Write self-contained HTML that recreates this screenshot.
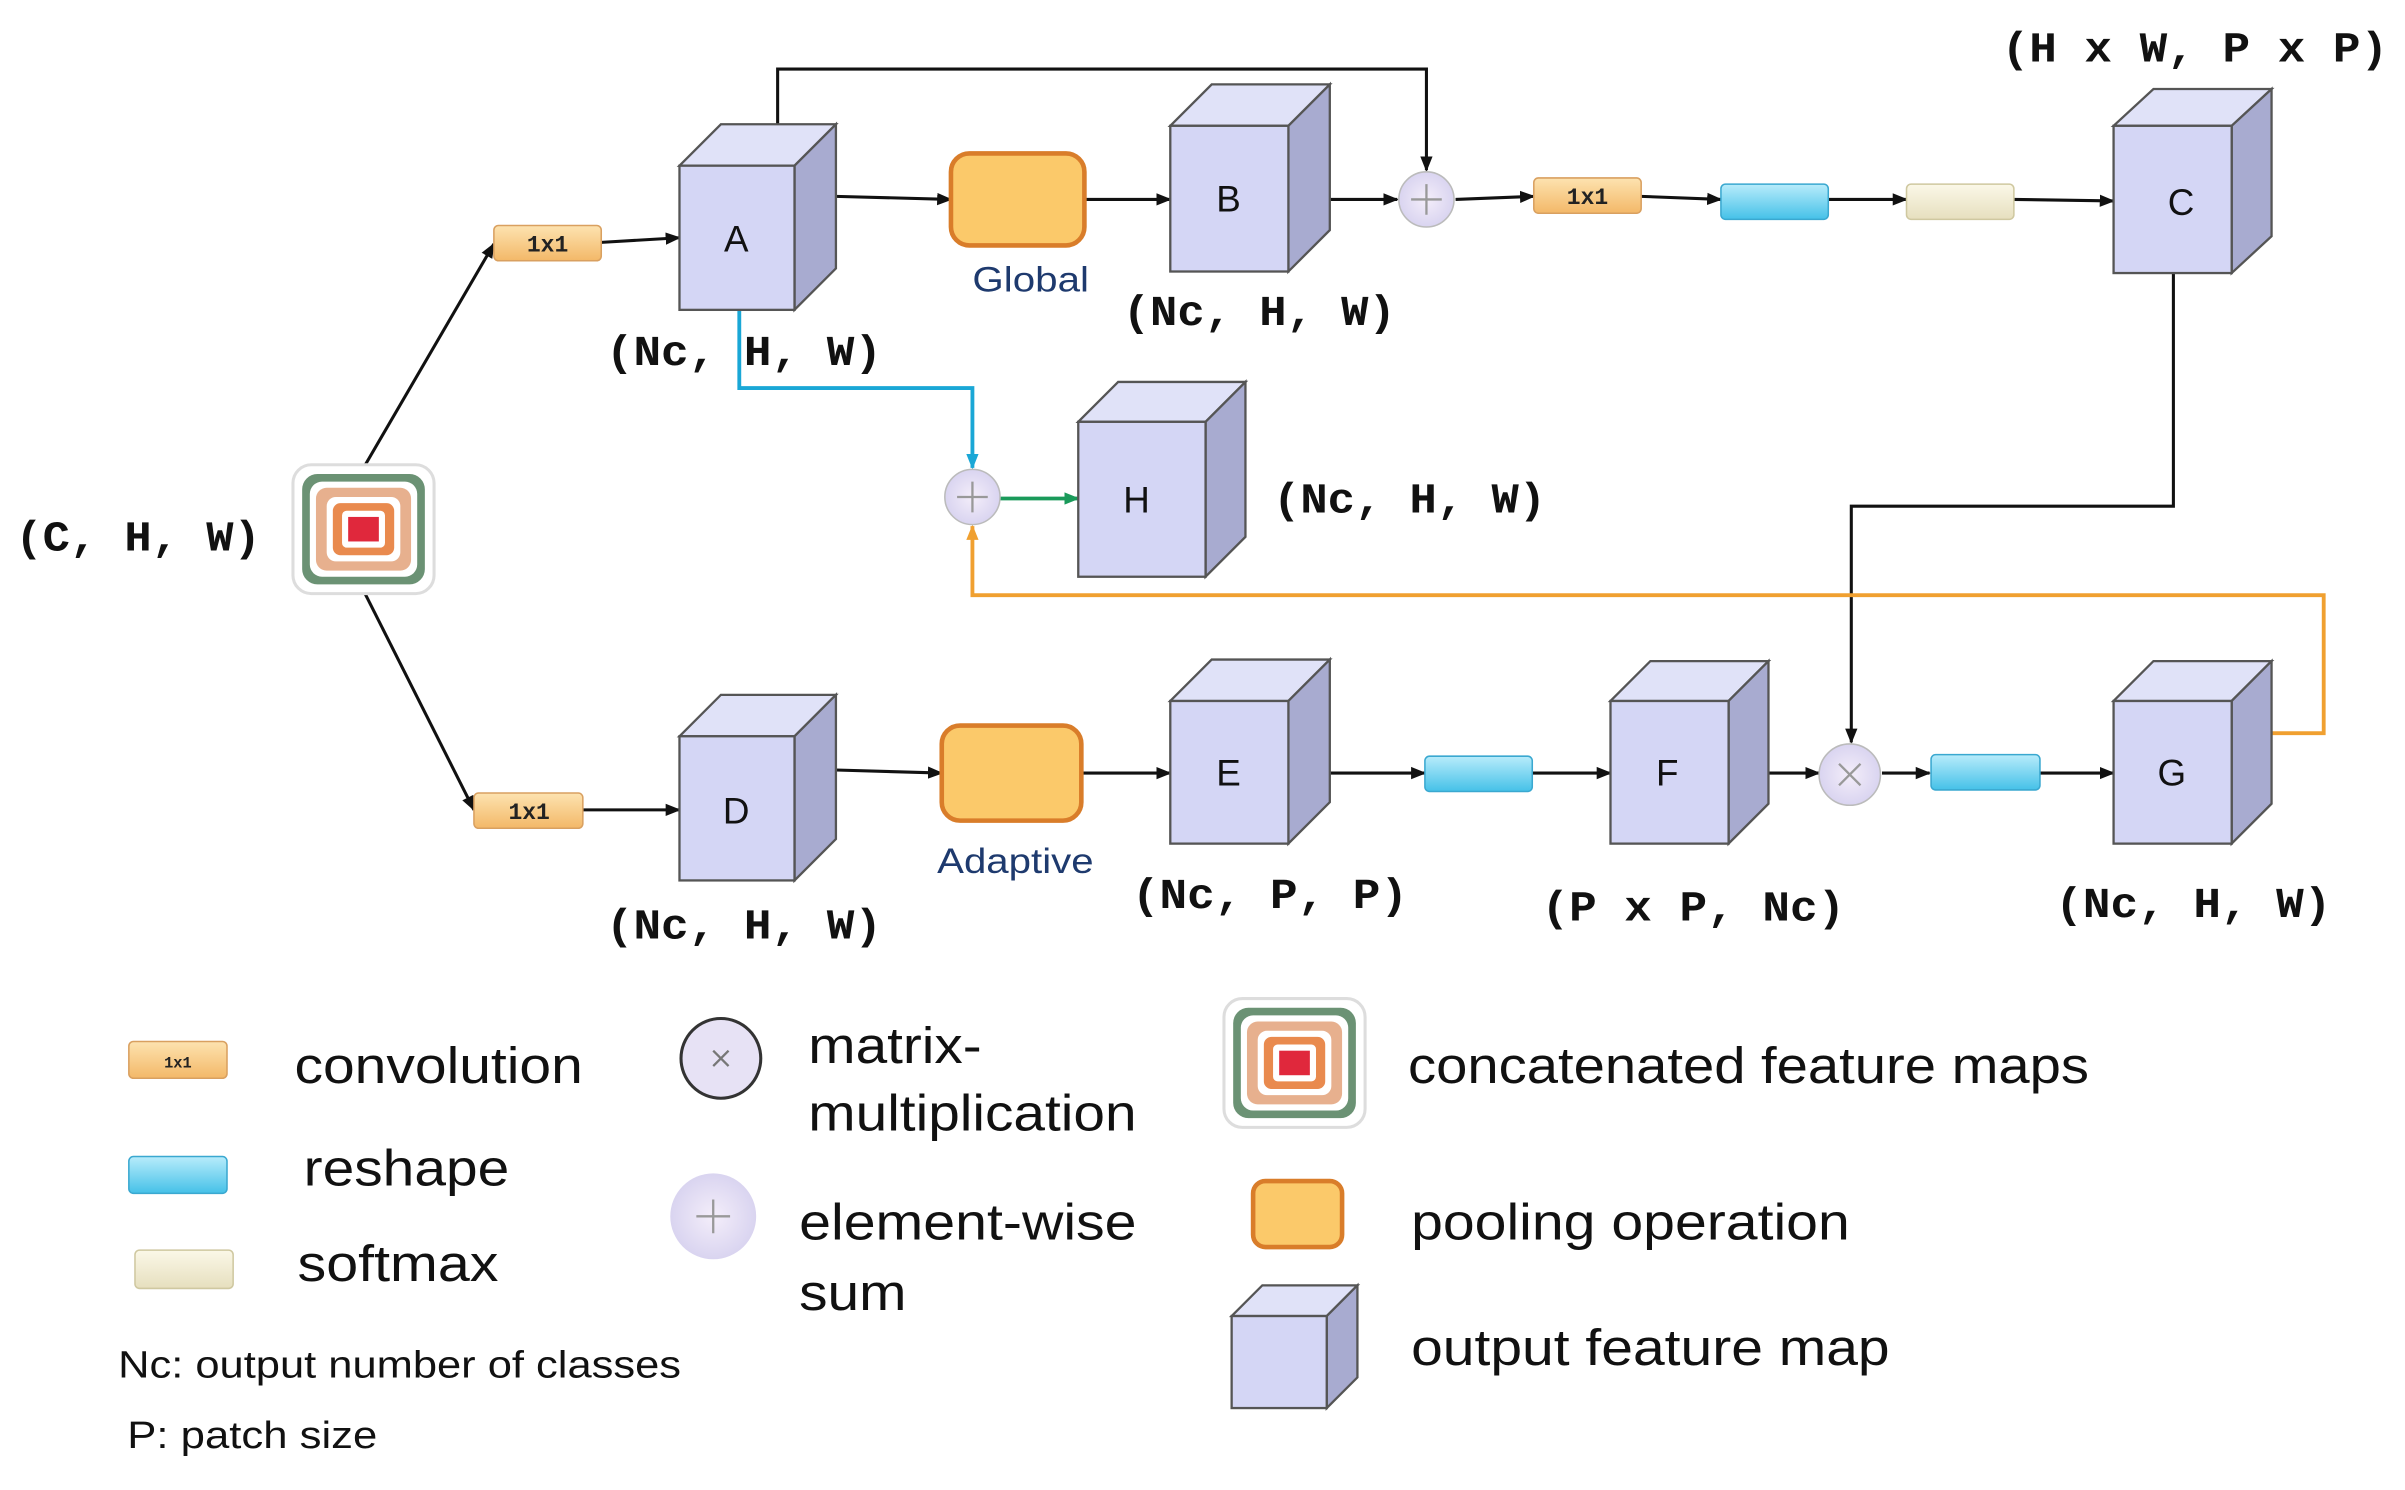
<!DOCTYPE html>
<html><head><style>html,body{margin:0;padding:0;background:#fff}svg{display:block}</style></head><body>
<svg width="2405" height="1490" viewBox="0 0 1568 971.4" xmlns="http://www.w3.org/2000/svg">
<defs>
<marker id="ar" markerWidth="10" markerHeight="10" refX="9" refY="5" orient="auto" markerUnits="userSpaceOnUse"><path d="M0,1 L10,5 L0,9 z" fill="#111"/></marker>
<marker id="arb" markerWidth="10" markerHeight="10" refX="9" refY="5" orient="auto" markerUnits="userSpaceOnUse"><path d="M0,1 L10,5 L0,9 z" fill="#1aa7d6"/></marker>
<marker id="arg" markerWidth="10" markerHeight="10" refX="9" refY="5" orient="auto" markerUnits="userSpaceOnUse"><path d="M0,1 L10,5 L0,9 z" fill="#1a9a5a"/></marker>
<marker id="aro" markerWidth="10" markerHeight="10" refX="9" refY="5" orient="auto" markerUnits="userSpaceOnUse"><path d="M0,1 L10,5 L0,9 z" fill="#f0a030"/></marker>
<linearGradient id="conv" x1="0" y1="0" x2="0" y2="1"><stop offset="0" stop-color="#fde3b0"/><stop offset="1" stop-color="#f3b868"/></linearGradient>
<linearGradient id="resh" x1="0" y1="0" x2="0" y2="1"><stop offset="0" stop-color="#b8ecfb"/><stop offset="1" stop-color="#45c1e8"/></linearGradient>
<linearGradient id="soft" x1="0" y1="0" x2="0" y2="1"><stop offset="0" stop-color="#fbf8e8"/><stop offset="1" stop-color="#e6dfbe"/></linearGradient>
<radialGradient id="circ"><stop offset="0" stop-color="#f4eefa"/><stop offset="1" stop-color="#d9d4f0"/></radialGradient>
<g id="concat">
<rect x="-46" y="-42" width="92" height="84" rx="12" fill="#fff" stroke="#ddd" stroke-width="2"/>
<rect x="-40" y="-36" width="80" height="72" rx="10" fill="#6b9274"/>
<rect x="-35" y="-31" width="70" height="62" rx="8" fill="#fff"/>
<rect x="-31" y="-27" width="62" height="54" rx="7" fill="#e7b08e"/>
<rect x="-24" y="-21" width="48" height="42" rx="6" fill="#fff"/>
<rect x="-20" y="-17" width="40" height="34" rx="5" fill="#e98a4e"/>
<rect x="-14" y="-12" width="28" height="24" rx="3" fill="#fff"/>
<rect x="-10" y="-8" width="20" height="16" fill="#e0283c"/>
</g>
</defs>
<g font-family="Liberation Sans, sans-serif">
<g stroke="#111" stroke-width="2" fill="none">
<line x1="237" y1="305" x2="322" y2="159" marker-end="url(#ar)"/>
<line x1="237" y1="385" x2="309" y2="528" marker-end="url(#ar)"/>
<line x1="392" y1="158" x2="443" y2="155" marker-end="url(#ar)"/>
<line x1="380" y1="528" x2="443" y2="528" marker-end="url(#ar)"/>
<polyline points="507,83 507,45 930,45 930,111" marker-end="url(#ar)"/>
<line x1="545" y1="128" x2="620" y2="130" marker-end="url(#ar)"/>
<line x1="707" y1="130" x2="763" y2="130" marker-end="url(#ar)"/>
<line x1="866" y1="130" x2="911" y2="130" marker-end="url(#ar)"/>
<line x1="949" y1="130" x2="1000" y2="128" marker-end="url(#ar)"/>
<line x1="1070" y1="128" x2="1122" y2="130" marker-end="url(#ar)"/>
<line x1="1192" y1="130" x2="1243" y2="130" marker-end="url(#ar)"/>
<line x1="1313" y1="130" x2="1378" y2="131" marker-end="url(#ar)"/>
<polyline points="1417,178 1417,330 1207,330 1207,484" marker-end="url(#ar)"/>
<line x1="545" y1="502" x2="614" y2="504" marker-end="url(#ar)"/>
<line x1="705" y1="504" x2="763" y2="504" marker-end="url(#ar)"/>
<line x1="866" y1="504" x2="929" y2="504" marker-end="url(#ar)"/>
<line x1="999" y1="504" x2="1050" y2="504" marker-end="url(#ar)"/>
<line x1="1127" y1="504" x2="1186" y2="504" marker-end="url(#ar)"/>
<line x1="1227" y1="504" x2="1258" y2="504" marker-end="url(#ar)"/>
<line x1="1330" y1="504" x2="1378" y2="504" marker-end="url(#ar)"/>
</g>
<polyline points="482,202 482,253 634,253 634,305" fill="none" stroke="#1aa7d6" stroke-width="2.5" marker-end="url(#arb)"/>
<line x1="652" y1="325" x2="703" y2="325" stroke="#1a9a5a" stroke-width="2.5" marker-end="url(#arg)"/>
<polyline points="1481,478 1515,478 1515,388 634,388 634,343" fill="none" stroke="#f0a030" stroke-width="2.5" marker-end="url(#aro)"/>

<g stroke="#555" stroke-width="1.5">
<polygon points="443,108 470,81 545,81 518,108" fill="#e0e2f8"/><polygon points="518,108 545,81 545,175 518,202" fill="#a8abd0"/><rect x="443" y="108" width="75" height="94" fill="#d4d6f5"/>
<polygon points="763,82 790,55 867,55 840,82" fill="#e0e2f8"/><polygon points="840,82 867,55 867,150 840,177" fill="#a8abd0"/><rect x="763" y="82" width="77" height="95" fill="#d4d6f5"/>
<polygon points="1378,82 1404,58 1481,58 1455,82" fill="#e0e2f8"/><polygon points="1455,82 1481,58 1481,154 1455,178" fill="#a8abd0"/><rect x="1378" y="82" width="77" height="96" fill="#d4d6f5"/>
<polygon points="703,275 729,249 812,249 786,275" fill="#e0e2f8"/><polygon points="786,275 812,249 812,350 786,376" fill="#a8abd0"/><rect x="703" y="275" width="83" height="101" fill="#d4d6f5"/>
<polygon points="443,480 470,453 545,453 518,480" fill="#e0e2f8"/><polygon points="518,480 545,453 545,547 518,574" fill="#a8abd0"/><rect x="443" y="480" width="75" height="94" fill="#d4d6f5"/>
<polygon points="763,457 790,430 867,430 840,457" fill="#e0e2f8"/><polygon points="840,457 867,430 867,523 840,550" fill="#a8abd0"/><rect x="763" y="457" width="77" height="93" fill="#d4d6f5"/>
<polygon points="1050,457 1076,431 1153,431 1127,457" fill="#e0e2f8"/><polygon points="1127,457 1153,431 1153,524 1127,550" fill="#a8abd0"/><rect x="1050" y="457" width="77" height="93" fill="#d4d6f5"/>
<polygon points="1378,457 1404,431 1481,431 1455,457" fill="#e0e2f8"/><polygon points="1455,457 1481,431 1481,524 1455,550" fill="#a8abd0"/><rect x="1378" y="457" width="77" height="93" fill="#d4d6f5"/>
<polygon points="803,858 823,838 885,838 865,858" fill="#e0e2f8"/><polygon points="865,858 885,838 885,898 865,918" fill="#a8abd0"/><rect x="803" y="858" width="62" height="60" fill="#d4d6f5"/>
</g>
<g font-size="24" fill="#111" text-anchor="middle">
<text x="480" y="164">A</text><text x="801" y="138">B</text><text x="1422" y="140">C</text><text x="741" y="334">H</text>
<text x="480" y="537">D</text><text x="801" y="512">E</text><text x="1087" y="512">F</text><text x="1416" y="512">G</text>
</g>

<g fill="#fbc96a" stroke="#d97d2a" stroke-width="3">
<rect x="620" y="100" width="87" height="60" rx="12"/>
<rect x="614" y="473" width="91" height="62" rx="12"/>
<rect x="817" y="770" width="58" height="43" rx="8"/>
</g>
<text x="634" y="190" font-size="23" fill="#1e3a6e" textLength="76" lengthAdjust="spacingAndGlyphs">Global</text>
<text x="611" y="569" font-size="23" fill="#1e3a6e" textLength="102" lengthAdjust="spacingAndGlyphs">Adaptive</text>

<g stroke-width="1">
<rect x="322" y="147" width="70" height="23" rx="3" fill="url(#conv)" stroke="#d9a060"/>
<rect x="309" y="517" width="71" height="23" rx="3" fill="url(#conv)" stroke="#d9a060"/>
<rect x="1000" y="116" width="70" height="23" rx="3" fill="url(#conv)" stroke="#d9a060"/>
<rect x="84" y="679" width="64" height="24" rx="3" fill="url(#conv)" stroke="#d9a060"/>
<rect x="1122" y="120" width="70" height="23" rx="3" fill="url(#resh)" stroke="#3aa8d0"/>
<rect x="929" y="493" width="70" height="23" rx="3" fill="url(#resh)" stroke="#3aa8d0"/>
<rect x="1259" y="492" width="71" height="23" rx="3" fill="url(#resh)" stroke="#3aa8d0"/>
<rect x="84" y="754" width="64" height="24" rx="3" fill="url(#resh)" stroke="#3aa8d0"/>
<rect x="1243" y="120" width="70" height="23" rx="3" fill="url(#soft)" stroke="#cfc8a0"/>
<rect x="88" y="815" width="64" height="25" rx="3" fill="url(#soft)" stroke="#cfc8a0"/>
</g>
<g font-family="Liberation Mono, monospace" font-weight="bold" font-size="15" fill="#222" text-anchor="middle">
<text x="357" y="164">1x1</text><text x="345" y="534">1x1</text><text x="1035" y="133">1x1</text>
<text x="116" y="696" font-size="10">1x1</text>
</g>

<g stroke="#bbb" stroke-width="1">
<circle cx="930" cy="130" r="18" fill="url(#circ)"/>
<circle cx="634" cy="324" r="18" fill="url(#circ)"/>
<circle cx="1206" cy="505" r="20" fill="url(#circ)"/>
<circle cx="465" cy="793" r="28" fill="url(#circ)" stroke="none"/>
</g>
<circle cx="470" cy="690" r="26" fill="#e7e2f5" stroke="#333" stroke-width="2"/>
<g stroke="#999" stroke-width="1.5">
<path d="M920,130h20M930,120v20"/><path d="M624,324h20M634,314v20"/>
<path d="M1199,498l14,14M1213,498l-14,14"/><path d="M454,793h22M465,782v22"/>
<path d="M465,685l10,10M475,685l-10,10" stroke="#777"/>
</g>

<use href="#concat" x="237" y="345"/>
<use href="#concat" x="844" y="693"/>

<g font-family="Liberation Mono, monospace" font-weight="bold" font-size="28" fill="#111" lengthAdjust="spacingAndGlyphs">
<text x="1305" y="40" textLength="252" lengthAdjust="spacingAndGlyphs">(H x W, P x P)</text>
<text x="395" y="238" textLength="180" lengthAdjust="spacingAndGlyphs">(Nc, H, W)</text>
<text x="732" y="212" textLength="178" lengthAdjust="spacingAndGlyphs">(Nc, H, W)</text>
<text x="830" y="334" textLength="178" lengthAdjust="spacingAndGlyphs">(Nc, H, W)</text>
<text x="10" y="359" textLength="160" lengthAdjust="spacingAndGlyphs">(C, H, W)</text>
<text x="395" y="612" textLength="180" lengthAdjust="spacingAndGlyphs">(Nc, H, W)</text>
<text x="738" y="592" textLength="180" lengthAdjust="spacingAndGlyphs">(Nc, P, P)</text>
<text x="1005" y="600" textLength="198" lengthAdjust="spacingAndGlyphs">(P x P, Nc)</text>
<text x="1340" y="598" textLength="180" lengthAdjust="spacingAndGlyphs">(Nc, H, W)</text>
</g>
<g font-size="33" fill="#111">
<text x="192" y="706" textLength="188" lengthAdjust="spacingAndGlyphs">convolution</text>
<text x="198" y="773" textLength="134" lengthAdjust="spacingAndGlyphs">reshape</text>
<text x="194" y="835" textLength="131" lengthAdjust="spacingAndGlyphs">softmax</text>
<text x="527" y="693" textLength="113" lengthAdjust="spacingAndGlyphs">matrix-</text>
<text x="527" y="737" textLength="214" lengthAdjust="spacingAndGlyphs">multiplication</text>
<text x="521" y="808" textLength="220" lengthAdjust="spacingAndGlyphs">element-wise</text>
<text x="521" y="854" textLength="70" lengthAdjust="spacingAndGlyphs">sum</text>
<text x="918" y="706" textLength="444" lengthAdjust="spacingAndGlyphs">concatenated feature maps</text>
<text x="920" y="808" textLength="286" lengthAdjust="spacingAndGlyphs">pooling operation</text>
<text x="920" y="890" textLength="312" lengthAdjust="spacingAndGlyphs">output feature map</text>
</g>
<text x="77" y="898" font-size="25" fill="#111" textLength="367" lengthAdjust="spacingAndGlyphs">Nc: output number of classes</text>
<text x="83" y="944" font-size="25" fill="#111" textLength="163" lengthAdjust="spacingAndGlyphs">P: patch size</text>
</g>
</svg>
</body></html>
